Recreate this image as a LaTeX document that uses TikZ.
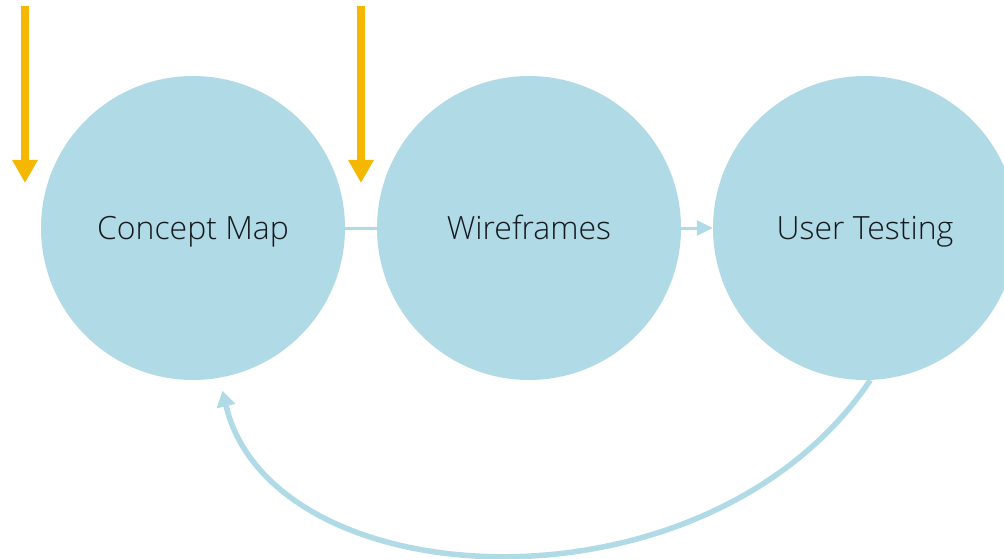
\documentclass[tikz,border=0pt]{standalone}
\usepackage{fontspec}
\setmainfont{Open Sans Light}
\usetikzlibrary{arrows.meta}
\definecolor{cblue}{RGB}{176,218,229}
\definecolor{corange}{RGB}{245,183,0}
\definecolor{ctext}{RGB}{20,25,30}
\begin{document}
\begin{tikzpicture}[x=1pt,y=-1pt,
  stage/.style={circle,fill=cblue,minimum size=304pt,inner sep=0pt,text=ctext,
    text height=23pt,text depth=0pt,font=\fontsize{32}{38}\selectfont},
  inarrow/.style={draw=corange,line width=8pt,-{Triangle[width=24pt,length=23pt]}},
  link/.style={draw=cblue,line width=3pt},
  linkarrow/.style={link,-{Triangle[width=15pt,length=16pt]}},
  backarrow/.style={draw=cblue,line width=5.5pt,-{Triangle[width=18pt,length=16pt]},shorten >=13pt}]
\useasboundingbox (0,0) rectangle (1004,559);
\node[stage] (c1) at (193,228) {Concept Map};
\node[stage] (c2) at (529,228) {Wireframes};
\node[stage] (c3) at (865,228) {User Testing};
\coordinate (t1) at (25,6);
\coordinate (e1) at (25,183);
\coordinate (t2) at (361,6);
\coordinate (e2) at (361,183);
\draw[inarrow] (t1) -- (e1);
\draw[inarrow] (t2) -- (e2);
\draw[link] (c1) -- (c2);
\draw[linkarrow] (c2) -- (c3);
\draw[backarrow] (c3.-88) .. controls (707,623) and (272,600) .. (c1.-80);
\end{tikzpicture}
\end{document}
